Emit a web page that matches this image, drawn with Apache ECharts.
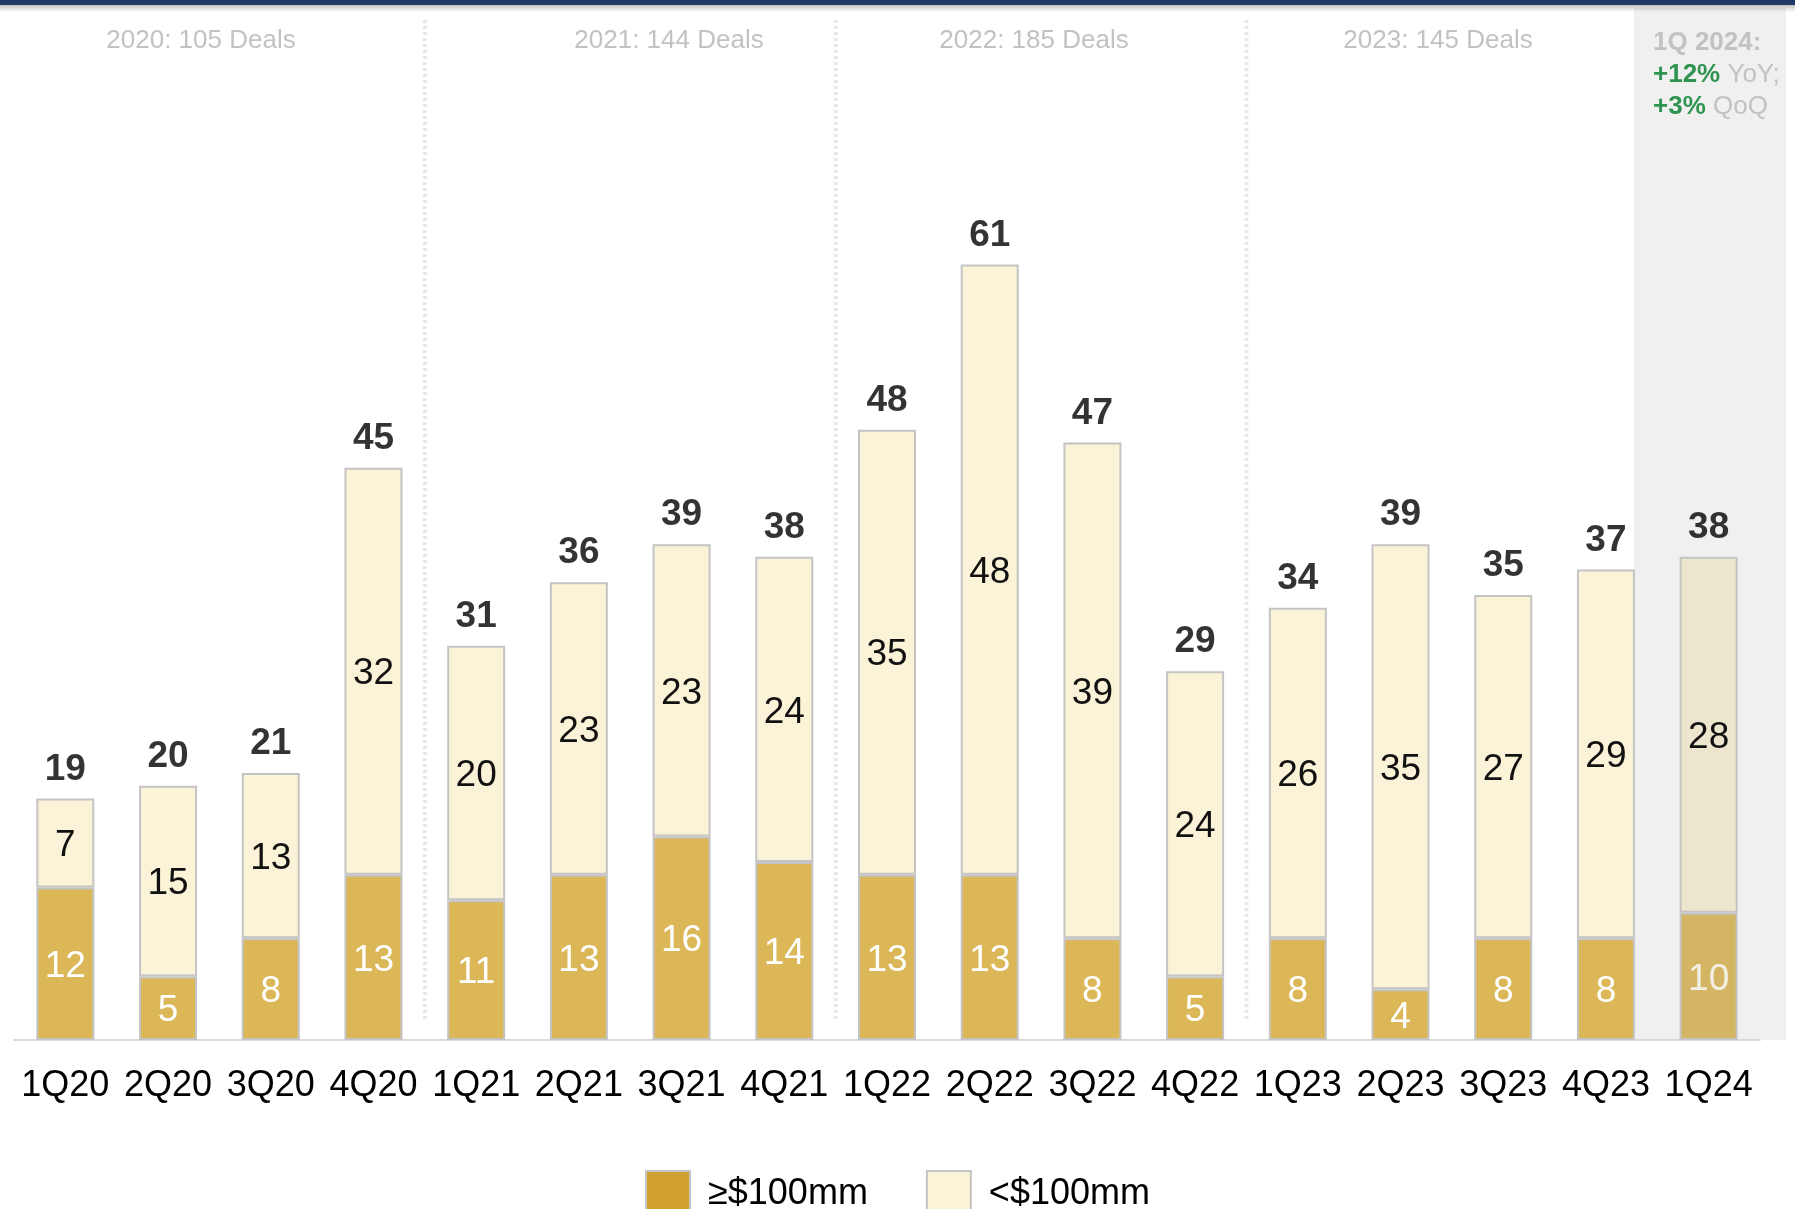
<!DOCTYPE html>
<html>
<head>
<meta charset="utf-8">
<script src="https://cdn.jsdelivr.net/npm/echarts@6/dist/echarts.min.js"></script>
<style>
  html, body { margin: 0; padding: 0; background: #fff; }
  #chart { width: 1795px; height: 1209px; }
</style>
</head>
<body>
<div id="chart"></div>
<script>
const quarters = ['1Q20', '2Q20', '3Q20', '4Q20', '1Q21', '2Q21', '3Q21', '4Q21', '1Q22', '2Q22', '3Q22', '4Q22', '1Q23', '2Q23', '3Q23', '4Q23', '1Q24'];
const large = [12, 5, 8, 13, 11, 13, 16, 14, 13, 13, 8, 5, 8, 4, 8, 8, 10];
const small = [7, 15, 13, 32, 20, 23, 23, 24, 35, 48, 39, 24, 26, 35, 27, 29, 28];
const totals = [19, 20, 21, 45, 31, 36, 39, 38, 48, 61, 47, 29, 34, 39, 35, 37, 38];
const yearLabels = ['2020: 105 Deals', '2021: 144 Deals', '2022: 185 Deals', '2023: 145 Deals'];

const FONT = 'Arial, "Liberation Sans", sans-serif';
const lastIdx = quarters.length - 1;

const chart = echarts.init(document.getElementById('chart'));

const largeData = large.map((v, i) => i === lastIdx
  ? { value: v, itemStyle: { color: '#d4b563' }, label: { color: '#f3efe4' } }
  : v);
const smallData = small.map((v, i) => i === lastIdx
  ? { value: v, itemStyle: { color: '#ede6cf' } }
  : v);

chart.setOption({
  animation: false,
  textStyle: { fontFamily: FONT },
  grid: { left: 14, right: 35, top: 150, bottom: 169 },
  xAxis: {
    type: 'category',
    data: quarters,
    axisLine: { lineStyle: { color: '#d9d9d9', width: 2 } },
    axisTick: { show: false },
    axisLabel: { color: '#000', fontSize: 36, margin: 28, interval: 0 }
  },
  yAxis: { type: 'value', min: 0, max: 70, show: false, splitLine: { show: false } },
  legend: {
    data: [
      { name: '≥$100mm', itemStyle: { color: '#d1a22f' } },
      { name: '<$100mm', itemStyle: { color: '#fbf3d7' } }
    ],
    top: 1165,
    left: 'center',
    icon: 'rect',
    itemWidth: 44,
    itemHeight: 46,
    itemGap: 58,
    textStyle: { fontSize: 36, color: '#000', padding: [0, 0, 0, 13] }
  },
  series: [
    {
      name: '≥$100mm',
      type: 'bar',
      stack: 'deals',
      barWidth: 58,
      data: largeData,
      itemStyle: { color: '#dbb757', borderColor: '#c4c4c4', borderWidth: 2 },
      label: { show: true, position: 'inside', offset: [0, 3], color: '#fff', fontSize: 37 }
    },
    {
      name: '<$100mm',
      type: 'bar',
      stack: 'deals',
      barWidth: 58,
      data: smallData,
      itemStyle: { color: '#fbf3d7', borderColor: '#c4c4c4', borderWidth: 2 },
      label: { show: true, position: 'inside', offset: [0, 3], color: '#111', fontSize: 37 }
    },
    {
      name: 'Total',
      type: 'scatter',
      data: totals,
      symbolSize: 1,
      itemStyle: { color: 'rgba(0,0,0,0)' },
      label: { show: true, position: 'top', distance: 10, color: '#000', fontSize: 37, fontWeight: 'bold' },
      z: 5
    }
  ]
});

// decorations placed from the axis scale
const px = i => chart.convertToPixel({ xAxisIndex: 0 }, i);
const step = px(1) - px(0);
const graphics = [
  { type: 'rect', z: -10, shape: { x: 1634, y: 8, width: 152, height: 1032 }, style: { fill: '#f0f0f0' } },
  { type: 'rect', z: 10, shape: { x: 0, y: 5, width: 1795, height: 7 },
    style: { fill: new echarts.graphic.LinearGradient(0, 0, 0, 1, [
      { offset: 0, color: 'rgba(120,120,120,0.45)' },
      { offset: 1, color: 'rgba(120,120,120,0)' }
    ]) } },
  { type: 'rect', z: 11, shape: { x: 0, y: 0, width: 1795, height: 5 }, style: { fill: '#1f3864' } }
];
[4, 8, 12].forEach(i => {
  const x = px(i) - step / 2;
  graphics.push({ type: 'line', z: -5, shape: { x1: x, y1: 20, x2: x, y2: 1020 },
    style: { stroke: '#e8e8e8', lineWidth: 4, lineDash: [3, 3] } });
});
const labelX = [201, 669, 1034, 1438];
yearLabels.forEach((t, i) => {
  graphics.push({ type: 'text', x: labelX[i], y: 41,
    style: { text: t, fill: '#c2c2c2', font: '26px ' + FONT, align: 'center', verticalAlign: 'middle' } });
});
graphics.push({
  type: 'text', x: 1653, y: 27,
  style: {
    text: '{g|1Q 2024:}\n{p|+12%}{n| YoY;}\n{p|+3%}{n| QoQ}',
    verticalAlign: 'top',
    rich: {
      g: { fontFamily: FONT, fontSize: 26, fontWeight: 'bold', fill: '#c2c2c2', lineHeight: 32 },
      p: { fontFamily: FONT, fontSize: 26, fontWeight: 'bold', fill: '#2f9450', lineHeight: 32 },
      n: { fontFamily: FONT, fontSize: 26, fill: '#c2c2c2', lineHeight: 32 }
    }
  }
});
chart.setOption({ graphic: graphics });
</script>
</body>
</html>
